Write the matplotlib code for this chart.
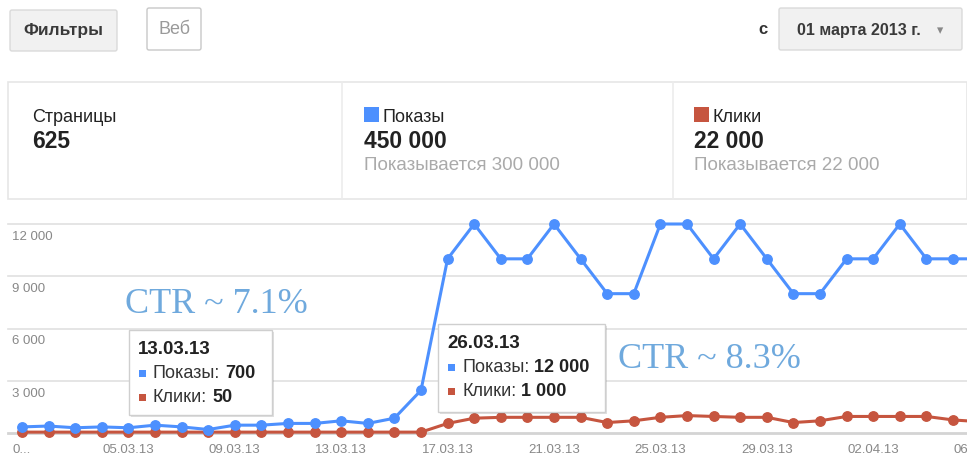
import matplotlib
matplotlib.use('Agg')
import matplotlib.pyplot as plt
from matplotlib.patches import Rectangle, FancyBboxPatch

plt.rcParams['font.family'] = ['Liberation Sans', 'DejaVu Sans']

# Данные
dates = ['01.03.13', '02.03.13', '03.03.13', '04.03.13', '05.03.13', '06.03.13', '07.03.13',
         '08.03.13', '09.03.13', '10.03.13', '11.03.13', '12.03.13', '13.03.13', '14.03.13',
         '15.03.13', '16.03.13', '17.03.13', '18.03.13', '19.03.13', '20.03.13', '21.03.13',
         '22.03.13', '23.03.13', '24.03.13', '25.03.13', '26.03.13', '27.03.13', '28.03.13',
         '29.03.13', '30.03.13', '31.03.13', '01.04.13', '02.04.13', '03.04.13', '04.04.13',
         '05.04.13', '06.04.13']
impressions = [350, 400, 300, 350, 300, 450, 350, 200, 450, 450, 550, 550, 700, 550, 850, 2450,
               10000, 12000, 10000, 10000, 12000, 10000, 8000, 8000, 12000, 12000, 10000, 12000,
               10000, 8000, 8000, 10000, 10000, 12000, 10000, 10000, 10000]
clicks = [50, 50, 50, 50, 50, 50, 50, 50, 50, 50, 50, 50, 50, 50, 50, 50,
          550, 850, 900, 900, 900, 900, 600, 700, 900, 1000, 950, 900,
          900, 600, 700, 950, 950, 950, 950, 750, 650]
tick_positions = [0, 4, 8, 12, 16, 20, 24, 28, 32, 36]
tick_labels = ['0...', '05.03.13', '09.03.13', '13.03.13', '17.03.13', '21.03.13',
               '25.03.13', '29.03.13', '02.04.13', '06.04.13']
y_ticks = [3000, 6000, 9000, 12000]
y_tick_labels = ['3 000', '6 000', '9 000', '12 000']

BLUE = '#4d90fe'
RED = '#c6553f'
CTR_COLOR = '#6fa9dd'

W, H = 967, 459
fig = plt.figure(figsize=(W / 100, H / 100), dpi=100)

# --- график ---
x0, dx = 22, 26.6          # пиксель первой точки и шаг
y_zero, y_top = 433, 224   # пиксели для 0 и 12 000
ax_top = 200
per_px = 12000 / (y_zero - y_top)
ax = fig.add_axes([0, 0, 1, (H - ax_top) / H])
ax.set_xlim(-x0 / dx, (W - x0) / dx)
ax.set_ylim(-(H - y_zero) * per_px, (y_zero - ax_top) * per_px)
ax.axis('off')

for v, lbl in zip(y_ticks, y_tick_labels):
    ax.axhline(v, xmin=8 / W, color='#e0e0e0', lw=1.2, zorder=1)
    ax.annotate(lbl, xy=(0, v), xycoords=('axes fraction', 'data'), xytext=(12, -13),
                textcoords='offset pixels', fontsize=9.5, color='#888', ha='left', va='center')
ax.axhline(0, xmin=8 / W, color='#d4d4d4', lw=2, zorder=1)

for pos, lbl in zip(tick_positions, tick_labels):
    ax.annotate(lbl, xy=(pos, 0), xytext=(0, -17), textcoords='offset pixels',
                fontsize=9.5, color='#888', ha='center', va='center', annotation_clip=False)

idx = list(range(len(dates)))
ax.plot(idx, clicks, color=RED, lw=2.2, marker='o', ms=6.8, zorder=3)
ax.plot(idx, impressions, color=BLUE, lw=2.2, marker='o', ms=6.8, zorder=4)

# --- интерфейс поверх (координаты в пикселях) ---
ui = fig.add_axes([0, 0, 1, 1], zorder=5)
ui.set_xlim(0, W)
ui.set_ylim(H, 0)
ui.axis('off')

# кнопки
ui.add_patch(FancyBboxPatch((10, 10), 107, 41, boxstyle='round,pad=0,rounding_size=2',
                            fc='#f1f1f1', ec='#dadada', lw=1))
ui.text(63, 30, 'Фильтры', ha='center', va='center', fontsize=12.5, fontweight='bold', color='#3a3a3a')
ui.add_patch(FancyBboxPatch((147, 8), 54, 42, boxstyle='round,pad=0,rounding_size=2',
                            fc='white', ec='#c8c8c8', lw=1))
ui.text(175, 29, 'Веб', ha='center', va='center', fontsize=13, color='#9a9a9a')
ui.text(763, 30, 'с', ha='center', va='center', fontsize=12, fontweight='bold', color='#333')
ui.add_patch(FancyBboxPatch((779, 8), 183, 42, boxstyle='round,pad=0,rounding_size=2',
                            fc='#f1f1f1', ec='#dadada', lw=1))
ui.text(797, 30, '01 марта 2013 г.', ha='left', va='center', fontsize=11.5,
        fontweight='bold', color='#3a3a3a')
ui.text(940, 31, '▾', ha='center', va='center', fontsize=9, color='#888',
        family=['DejaVu Sans'])

# панель со сводкой
ui.add_patch(Rectangle((8, 82), W - 8, 117, fc='white', ec='#e6e6e6', lw=1.2))
for xd in (342, 673):
    ui.plot([xd, xd], [82, 199], color='#ececec', lw=1.2)

ui.text(32, 117, 'Страницы', ha='left', va='center', fontsize=13, color='#222')
ui.text(32, 141, '625', ha='left', va='center', fontsize=16.5, fontweight='bold', color='#222')

stat_blocks = [(364, BLUE, 'Показы', '450 000', 'Показывается 300 000'),
               (694, RED, 'Клики', '22 000', 'Показывается 22 000')]
for xs, col, name, total, shown in stat_blocks:
    ui.add_patch(Rectangle((xs, 107), 15, 15, fc=col, ec='none'))
    ui.text(xs + 19, 117, name, ha='left', va='center', fontsize=13, color='#222')
    ui.text(xs, 141, total, ha='left', va='center', fontsize=16.5, fontweight='bold', color='#222')
    ui.text(xs, 166, shown, ha='left', va='center', fontsize=13.5, color='#aaa')

# всплывающие подсказки
renderer = fig.canvas.get_renderer()
tooltips = [((129, 330, 143, 85), dates[12], impressions[12], clicks[12]),
            ((438, 324, 167, 88), dates[25], impressions[25], clicks[25])]


def fmt(n):
    return f'{n:,}'.replace(',', ' ')


for (bx, by, bw, bh), d, imp, clk in tooltips:
    ui.add_patch(Rectangle((bx + 1.5, by + 1.5), bw, bh, fc='#000000', alpha=0.12, ec='none'))
    ui.add_patch(Rectangle((bx, by), bw, bh, fc='white', ec='#cfcfcf', lw=1))
    ui.text(bx + 9, by + 19, d, ha='left', va='center', fontsize=13.5,
            fontweight='bold', color='#222')
    for k, (col, name, val) in enumerate([(BLUE, 'Показы:', imp), (RED, 'Клики:', clk)]):
        yy = by + 43 + 24.5 * k
        ui.add_patch(Rectangle((bx + 10, yy - 3.5), 7, 7, fc=col, ec='none'))
        t = ui.text(bx + 24, yy, name, ha='left', va='center', fontsize=13, color='#333')
        bb = t.get_window_extent(renderer)
        ui.text(bb.x1 + 5, yy, fmt(val), ha='left', va='center', fontsize=13,
                fontweight='bold', color='#222')

# подписи CTR
ui.text(125, 313, 'CTR ~ 7.1%', ha='left', va='baseline', fontsize=26,
        family=['Liberation Serif'], color=CTR_COLOR)
ui.text(618, 368, 'CTR ~ 8.3%', ha='left', va='baseline', fontsize=26,
        family=['Liberation Serif'], color=CTR_COLOR)

fig.savefig('out.png', dpi=100)
